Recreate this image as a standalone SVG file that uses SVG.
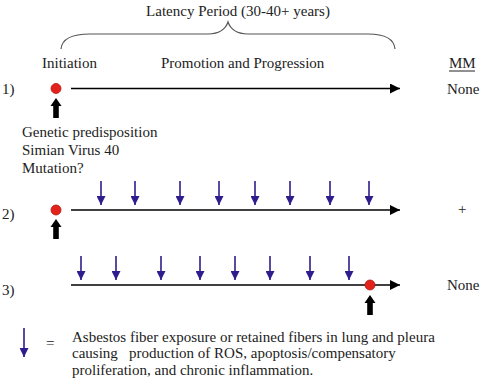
<svg xmlns="http://www.w3.org/2000/svg" width="480" height="381" viewBox="0 0 480 381">
<defs>
<style>
text{font-family:"Liberation Serif","Times New Roman",serif;font-size:15px;fill:#222}
.tl{stroke:#000;stroke-width:1.6;fill:none}
.bl{stroke:#2e1d8c;stroke-width:1.6;fill:none}
.dot{fill:#e3231b;stroke:#b01810;stroke-width:0.8}
.brace{stroke:#555;stroke-width:1.2;fill:none}
</style>
<marker id="ah" viewBox="0 0 10 10" refX="10" refY="5" markerWidth="10" markerHeight="10" markerUnits="userSpaceOnUse" orient="auto"><path d="M0,0 L10,5 L0,10 Z" fill="#000"/></marker>
<marker id="bh" viewBox="0 0 10 10" refX="10" refY="5" markerWidth="9" markerHeight="9" markerUnits="userSpaceOnUse" orient="auto"><path d="M0,0 L10,5 L0,10 Z" fill="#2e1d8c"/></marker>
<path id="up" d="M-5.5,8 L0,0 L5.5,8 L2.8,8 L2.8,20 L-2.8,20 L-2.8,8 Z" fill="#000"/>
<path id="dn" class="bl" d="M0,0 V24" marker-end="url(#bh)"/>
</defs>
<text x="238" y="16" text-anchor="middle">Latency Period (30-40+ years)</text>
<path class="brace" d="M61,49 C62,38 74,34 90,34 L208,34 C220,34 226,28 228,22 C230,28 236,34 248,34 L368,34 C384,34 394,38 395,49"/>
<text x="42" y="68">Initiation</text>
<text x="161" y="68">Promotion and Progression</text>
<text x="449" y="68">MM</text>
<line x1="449" y1="71" x2="475" y2="71" stroke="#222" stroke-width="1"/>
<g id="row1">
<text x="2" y="94">1)</text>
<circle class="dot" cx="56" cy="88.5" r="5"/>
<use href="#up" x="56" y="98"/>
<line class="tl" x1="71" y1="88.5" x2="400" y2="88.5" marker-end="url(#ah)"/>
<text x="447" y="94">None</text>
</g>
<text x="22" y="137">Genetic predisposition</text>
<text x="22" y="155">Simian Virus 40</text>
<text x="22" y="173">Mutation?</text>
<g id="row2">
<text x="2" y="219">2)</text>
<circle class="dot" cx="56" cy="210" r="5"/>
<use href="#up" x="56" y="219"/>
<line class="tl" x1="71" y1="210" x2="400" y2="210" marker-end="url(#ah)"/>
<use href="#dn" x="101" y="181"/><use href="#dn" x="135" y="181"/><use href="#dn" x="180" y="181"/><use href="#dn" x="219" y="181"/>
<use href="#dn" x="255" y="181"/><use href="#dn" x="290" y="181"/><use href="#dn" x="330" y="181"/><use href="#dn" x="369" y="181"/>
<text x="458" y="214">+</text>
</g>
<g id="row3">
<text x="2" y="295">3)</text>
<line class="tl" x1="71" y1="285" x2="400" y2="285" marker-end="url(#ah)"/>
<use href="#dn" x="81" y="256"/><use href="#dn" x="116" y="256"/><use href="#dn" x="161" y="256"/><use href="#dn" x="200" y="256"/>
<use href="#dn" x="235" y="256"/><use href="#dn" x="270" y="256"/><use href="#dn" x="310" y="256"/><use href="#dn" x="349" y="256"/>
<circle class="dot" cx="370" cy="285" r="5"/>
<use href="#up" x="370" y="295"/>
<text x="447" y="290">None</text>
</g>
<g id="legend">
<path class="bl" d="M24,328 V357" marker-end="url(#bh)"/>
<text x="46" y="348">=</text>
<text x="72" y="342">Asbestos fiber exposure or retained fibers in lung and pleura</text>
<text x="72" y="358" xml:space="preserve">causing   production of ROS, apoptosis/compensatory</text>
<text x="72" y="375">proliferation, and chronic inflammation.</text>
</g>
</svg>
